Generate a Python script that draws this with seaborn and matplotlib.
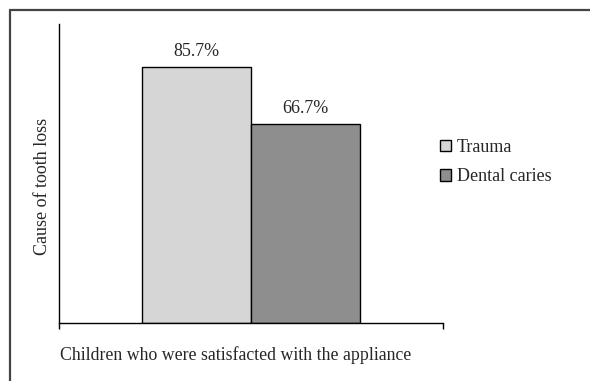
import matplotlib
matplotlib.use("Agg")
import matplotlib.pyplot as plt
from matplotlib.lines import Line2D
import seaborn as sns
import pandas as pd

# Data
category = ["Children who were satisfacted with the appliance"]
causes = ["Trauma", "Dental caries"]
percentages = [85.7, 66.7]
bar_colors = ["#d6d6d6", "#8e8e8e"]

df = pd.DataFrame({
    "group": category * len(causes),
    "cause": causes,
    "percent": percentages,
})

FS = 13

sns.set_theme(style="white")
plt.rcParams["font.family"] = ["Liberation Serif", "DejaVu Serif"]
plt.rcParams["font.size"] = FS

W, H = 590, 381
fig = plt.figure(figsize=(W / 100, H / 100), dpi=100)
ax = fig.add_axes([59 / W, 1 - 323 / H, (443 - 59) / W, (323 - 24) / H])

sns.barplot(
    data=df, x="group", y="percent", hue="cause",
    palette=bar_colors, width=0.57, edgecolor="black", linewidth=1.0,
    saturation=1, ax=ax,
)

ax.set_ylim(0, 100)
ax.set_xlim(-0.5, 0.5)

# Value labels on top of the bars
for container in ax.containers:
    ax.bar_label(container, labels=[f"{v:.1f}%" for v in container.datavalues],
                 padding=5, fontsize=FS)

# Axes styling: only left and bottom lines, boundary ticks on the category axis
for side in ("top", "right"):
    ax.spines[side].set_visible(False)
for side in ("left", "bottom"):
    ax.spines[side].set_color("black")
    ax.spines[side].set_linewidth(1.0)
ax.set_yticks([])
ax.set_xticks([-0.5, 0.5])
ax.set_xticklabels(["", ""])
ax.tick_params(axis="x", direction="out", length=4, width=1.0, color="black", bottom=True)

ax.set_xlabel(category[0], fontsize=12.8)
ax.xaxis.set_label_coords((236 - 59) / 384, -(346 - 323) / 299)
ax.set_ylabel("Cause of tooth loss", fontsize=FS)
ax.yaxis.set_label_coords(-(59 - 51) / 384, (323 - 186) / 299)

# Legend to the right of the plot
ax.legend(
    frameon=False, loc="upper left",
    bbox_to_anchor=(440 / W, 1 - 139 / H), bbox_transform=fig.transFigure,
    borderaxespad=0, borderpad=0, handlelength=0.62, handleheight=0.62,
    handletextpad=0.3, labelspacing=0.67, fontsize=FS,
)
for patch in ax.get_legend().get_patches():
    patch.set_edgecolor("black")
    patch.set_linewidth(1.0)

# Frame lines around the figure (left and top edges)
fig.add_artist(Line2D([10 / W, 10 / W], [0, 1 - 10 / H], transform=fig.transFigure,
                      color="#444444", linewidth=1.6))
fig.add_artist(Line2D([10 / W, 1], [1 - 10 / H, 1 - 10 / H], transform=fig.transFigure,
                      color="#444444", linewidth=1.6))

fig.savefig("out.png", dpi=100, facecolor="white")
